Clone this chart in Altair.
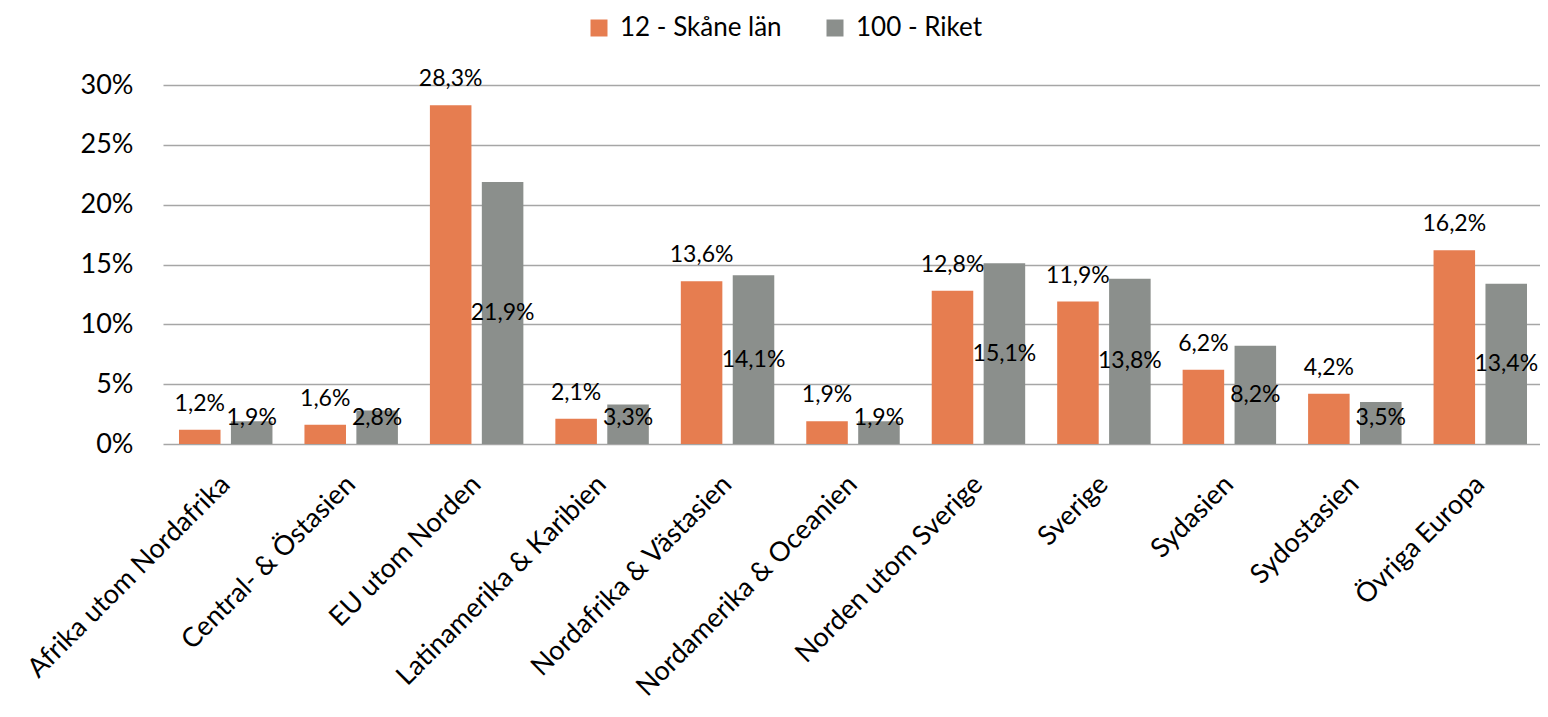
import altair as alt
import pandas as pd

categories = ["Afrika utom Nordafrika", "Central- & Östasien", "EU utom Norden",
              "Latinamerika & Karibien", "Nordafrika & Västasien", "Nordamerika & Oceanien",
              "Norden utom Sverige", "Sverige", "Sydasien", "Sydostasien", "Övriga Europa"]
series = ["12 - Skåne län", "100 - Riket"]
skane = [1.2, 1.6, 28.3, 2.1, 13.6, 1.9, 12.8, 11.9, 6.2, 4.2, 16.2]
riket = [1.9, 2.8, 21.9, 3.3, 14.1, 1.9, 15.1, 13.8, 8.2, 3.5, 13.4]
colors = ["#E67D50", "#8B8F8C"]
y_ticks = [0, 5, 10, 15, 20, 25, 30]

rows = []
for c, a, b in zip(categories, skane, riket):
    rows.append({"category": c, "series": series[0], "value": a})
    rows.append({"category": c, "series": series[1], "value": b})
df = pd.DataFrame(rows)

FONT = "Lato"

x_enc = alt.X("category:N", sort=categories,
              scale=alt.Scale(range=[0, 1380], paddingInner=0.255, paddingOuter=0.1275),
              axis=alt.Axis(title=None, labelAngle=-45, labelFont=FONT, labelFontSize=27,
                            labelColor="#000000", domain=False, ticks=False,
                            labelAlign="right", labelBaseline="middle", labelPadding=36,
                            labelLimit=0))
xo_enc = alt.XOffset("series:N", sort=series, scale=alt.Scale(paddingInner=0.2))

base = alt.Chart(df).encode(x=x_enc, xOffset=xo_enc)

bars = base.mark_bar().encode(
    y=alt.Y("value:Q", scale=alt.Scale(domain=[0, 30], nice=False),
            axis=alt.Axis(title=None, values=y_ticks, labelExpr="datum.value + '%'",
                          labelFont=FONT, labelFontSize=27, labelColor="#000000",
                          domain=False, ticks=False, labelPadding=30,
                          grid=True, gridColor="#A6A6A6", gridWidth=1.5)),
    color=alt.Color("series:N", sort=series,
                    scale=alt.Scale(domain=series, range=colors),
                    legend=alt.Legend(title=None, orient="none", legendX=423, legendY=-70,
                                      direction="horizontal", symbolType="square",
                                      symbolSize=289, symbolStrokeWidth=0,
                                      labelFont=FONT, labelFontSize=26, labelColor="#000000",
                                      labelOffset=8, columnPadding=40, labelLimit=0)),
)

lbl_expr = "replace(format(datum.value, '.1f'), '.', ',') + '%'"

top_labels = base.transform_filter(
    alt.datum.series == series[0]
).transform_calculate(
    lbl=lbl_expr
).mark_text(baseline="alphabetic", dy=-19, font=FONT, fontSize=23, color="#000000").encode(
    y=alt.Y("value:Q"), text="lbl:N"
)

mid_labels = base.transform_filter(
    alt.datum.series == series[1]
).transform_calculate(
    lbl=lbl_expr, ymid="max(datum.value / 2, 2.2)"
).mark_text(baseline="middle", font=FONT, fontSize=23, color="#000000").encode(
    y=alt.Y("ymid:Q"), text="lbl:N"
)

chart = alt.layer(bars, top_labels, mid_labels).properties(
    width=1377, height=359,
    autosize=alt.AutoSizeParams(type="none"),
    padding={"left": 155, "top": 77, "right": 0, "bottom": 264},
).configure_view(stroke=None)

chart.save("out.html", embed_options={"renderer": "svg", "actions": False})
